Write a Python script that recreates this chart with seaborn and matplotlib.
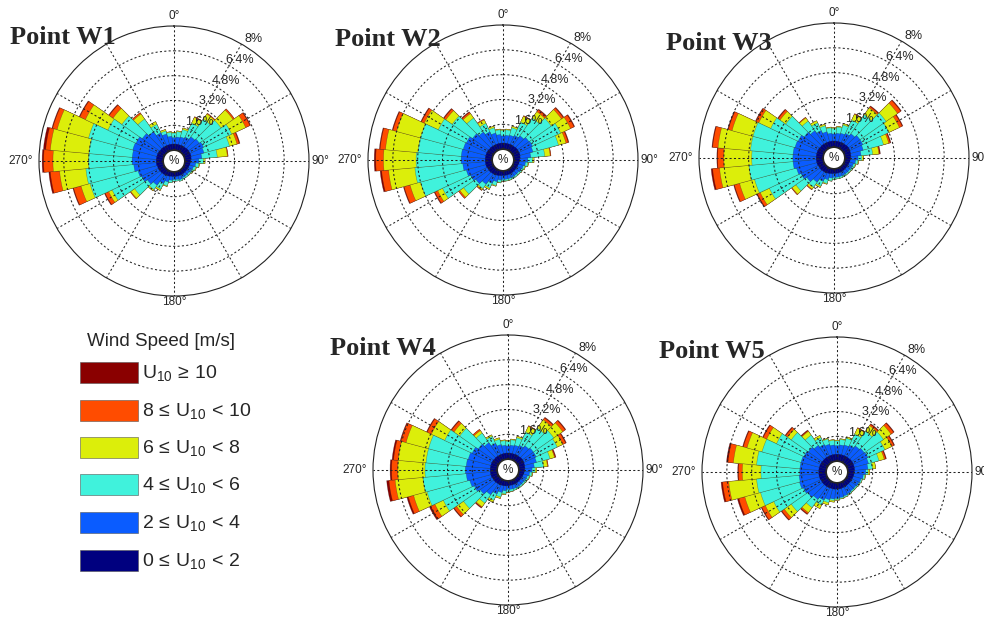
import numpy as np
import matplotlib
matplotlib.use("Agg")
import matplotlib.pyplot as plt
from matplotlib.patches import Rectangle
import seaborn as sns

sns.set_theme(style="white")
plt.rcParams["font.family"] = ["Liberation Sans", "DejaVu Sans"]
plt.rcParams["mathtext.fontset"] = "custom"
plt.rcParams["mathtext.rm"] = "Liberation Sans"
plt.rcParams["mathtext.it"] = "Liberation Sans:italic"
plt.rcParams["mathtext.bf"] = "Liberation Sans:bold"
plt.rcParams["mathtext.fallback"] = "stixsans"

# ---------------- data ----------------
directions = list(range(0, 360, 10))  # degrees, clockwise from North
ring_ticks = [1.6, 3.2, 4.8, 6.4, 8.0]
ring_labels = ["1.6%", "3.2%", "4.8%", "6.4%", "8%"]
angle_ticks = [0, 90, 180, 270]
angle_labels = ["0°", "90°", "180°", "270°"]
speed_labels = [r"$\mathrm{0}\,\leq\,\mathrm{U_{10}}\,<\,\mathrm{2}$",
                r"$\mathrm{2}\,\leq\,\mathrm{U_{10}}\,<\,\mathrm{4}$",
                r"$\mathrm{4}\,\leq\,\mathrm{U_{10}}\,<\,\mathrm{6}$",
                r"$\mathrm{6}\,\leq\,\mathrm{U_{10}}\,<\,\mathrm{8}$",
                r"$\mathrm{8}\,\leq\,\mathrm{U_{10}}\,<\,\mathrm{10}$",
                r"$\mathrm{U_{10}}\,\geq\,\mathrm{10}$"]
speed_colors = ["#00007F", "#0A5CFF", "#40F2DC", "#DCEE0A", "#FF4C00", "#8A0000"]
point_names = ["Point W1", "Point W2", "Point W3", "Point W4", "Point W5"]

# cumulative frequency (%) up to each speed class, per direction
w1_c2 = [0.40,0.40,0.40,0.42,0.42,0.45,0.45,0.45,0.42,0.38,0.35,0.32,0.30,0.30,0.30,0.30,0.30,0.30,
         0.30,0.30,0.33,0.35,0.38,0.40,0.42,0.42,0.45,0.45,0.45,0.45,0.45,0.42,0.42,0.40,0.40,0.40]
w1_c4 = [0.80,0.85,0.90,1.00,1.20,1.30,1.40,1.30,1.10,0.90,0.70,0.60,0.55,0.50,0.50,0.50,0.55,0.50,
         0.50,0.55,0.70,0.90,1.20,1.40,1.60,1.70,1.90,2.00,2.00,2.05,2.00,1.80,1.60,1.30,1.10,0.90]
w1_c6 = [1.10,1.20,1.40,2.00,2.60,3.00,3.40,3.00,2.10,1.20,0.90,0.75,0.65,0.60,0.60,0.60,0.65,0.60,
         0.60,0.70,0.95,1.30,1.55,2.40,3.70,4.90,5.00,4.80,4.80,5.00,4.00,3.40,2.60,1.90,1.30,1.15]
w1_c8 = [1.15,1.25,1.50,2.40,3.00,3.95,4.40,3.50,2.75,1.30,0.95,0.80,0.70,0.62,0.60,0.60,0.65,0.60,
         0.60,0.70,1.00,1.40,1.65,2.70,3.95,5.50,6.70,7.10,7.30,7.10,5.60,4.10,3.00,2.10,1.40,1.20]
w1_c10 = [1.15,1.25,1.50,2.45,3.05,4.05,4.70,3.65,2.80,1.30,0.95,0.80,0.70,0.62,0.60,0.60,0.65,0.60,
          0.60,0.70,1.00,1.40,1.65,2.75,4.20,6.00,7.30,7.70,7.60,7.40,6.00,4.40,3.10,2.10,1.40,1.20]
w1_tot = [1.15,1.25,1.50,2.45,3.05,4.05,4.75,3.70,2.80,1.30,0.95,0.80,0.70,0.62,0.60,0.60,0.65,0.60,
          0.60,0.70,1.00,1.40,1.65,2.75,4.25,6.05,7.40,7.80,7.75,7.45,6.05,4.45,3.10,2.10,1.40,1.20]

w2_c2 = [0.40,0.40,0.40,0.42,0.42,0.45,0.45,0.45,0.42,0.38,0.35,0.32,0.30,0.30,0.30,0.30,0.30,0.30,
         0.30,0.32,0.35,0.38,0.40,0.42,0.42,0.45,0.45,0.45,0.45,0.45,0.45,0.42,0.42,0.40,0.40,0.40]
w2_c4 = [0.85,0.90,0.95,1.05,1.20,1.35,1.40,1.30,1.10,0.90,0.75,0.65,0.60,0.55,0.55,0.55,0.55,0.55,
         0.55,0.60,0.75,0.95,1.20,1.45,1.60,1.75,1.90,2.00,2.00,1.95,1.90,1.70,1.50,1.30,1.10,0.95]
w2_c6 = [1.20,1.25,1.45,2.00,2.60,3.10,3.40,3.00,2.00,1.20,0.90,0.75,0.70,0.65,0.65,0.65,0.65,0.65,
         0.65,0.75,1.00,1.30,1.55,2.40,3.60,4.80,5.00,4.90,4.80,4.80,3.90,3.30,2.60,1.90,1.45,1.25]
w2_c8 = [1.25,1.30,1.55,2.40,3.10,3.90,4.10,3.50,2.35,1.30,0.95,0.80,0.72,0.67,0.65,0.65,0.67,0.67,
         0.67,0.78,1.05,1.40,1.65,2.70,3.95,5.50,6.70,7.00,6.90,6.40,4.90,3.80,2.95,2.15,1.55,1.30]
w2_c10 = [1.25,1.30,1.55,2.45,3.25,4.05,4.35,3.65,2.40,1.30,0.95,0.80,0.72,0.67,0.65,0.65,0.67,0.67,
          0.67,0.78,1.05,1.40,1.70,2.80,4.15,5.90,7.15,7.50,7.25,6.65,5.10,3.95,3.05,2.20,1.55,1.30]
w2_tot = [1.25,1.30,1.55,2.45,3.30,4.10,4.40,3.70,2.40,1.30,0.95,0.80,0.72,0.67,0.65,0.65,0.67,0.67,
          0.67,0.78,1.05,1.40,1.70,2.80,4.20,5.95,7.25,7.60,7.30,6.70,5.15,4.00,3.10,2.20,1.55,1.30]

w3_c2 = [0.40,0.40,0.40,0.42,0.42,0.45,0.45,0.42,0.40,0.38,0.35,0.32,0.30,0.30,0.30,0.30,0.30,0.30,
         0.30,0.32,0.35,0.38,0.40,0.42,0.42,0.45,0.45,0.45,0.45,0.45,0.45,0.42,0.42,0.40,0.40,0.40]
w3_c4 = [0.85,0.90,0.95,1.05,1.20,1.35,1.35,1.25,1.05,0.85,0.70,0.60,0.55,0.55,0.55,0.55,0.55,0.55,
         0.55,0.60,0.75,0.95,1.20,1.45,1.65,1.80,1.95,1.95,1.95,1.90,1.85,1.65,1.45,1.25,1.05,0.90]
w3_c6 = [1.20,1.30,1.50,2.00,2.70,3.40,3.20,2.60,1.80,1.10,0.85,0.72,0.68,0.64,0.64,0.64,0.65,0.65,
         0.68,0.78,1.00,1.30,1.60,2.30,3.90,4.60,4.80,4.60,4.70,4.70,3.80,3.10,2.20,1.80,1.45,1.25]
w3_c8 = [1.25,1.35,1.60,2.40,3.25,4.30,3.95,2.95,2.20,1.20,0.90,0.76,0.70,0.66,0.65,0.65,0.66,0.66,
         0.70,0.80,1.05,1.40,1.75,2.60,4.55,5.60,6.70,6.40,6.80,6.10,4.65,3.55,2.45,1.95,1.55,1.30]
w3_c10 = [1.25,1.35,1.60,2.45,3.35,4.55,4.15,3.05,2.25,1.20,0.90,0.76,0.70,0.66,0.65,0.65,0.66,0.66,
          0.70,0.80,1.05,1.40,1.80,2.65,4.75,5.95,7.15,6.80,7.15,6.35,4.85,3.70,2.50,1.95,1.55,1.30]
w3_tot = [1.25,1.35,1.60,2.45,3.40,4.60,4.20,3.10,2.30,1.20,0.90,0.76,0.70,0.66,0.65,0.65,0.66,0.66,
          0.70,0.80,1.05,1.40,1.80,2.65,4.80,6.00,7.25,6.85,7.20,6.40,4.90,3.75,2.50,1.95,1.55,1.30]

w4_c2 = [0.40,0.40,0.40,0.42,0.42,0.45,0.45,0.42,0.40,0.38,0.35,0.32,0.30,0.30,0.30,0.30,0.30,0.30,
         0.32,0.34,0.36,0.38,0.40,0.42,0.42,0.45,0.45,0.45,0.45,0.45,0.45,0.42,0.42,0.40,0.40,0.40]
w4_c4 = [0.85,0.90,0.95,1.05,1.20,1.30,1.30,1.20,1.00,0.85,0.70,0.60,0.55,0.55,0.55,0.55,0.55,0.55,
         0.55,0.65,0.80,1.00,1.25,1.50,1.70,1.85,2.00,2.05,2.00,1.95,1.85,1.65,1.45,1.20,1.00,0.90]
w4_c6 = [1.15,1.25,1.45,2.00,2.60,2.90,2.80,2.10,1.60,1.05,0.85,0.72,0.68,0.64,0.64,0.64,0.65,0.68,
         0.72,0.85,1.10,1.45,1.90,2.80,3.90,4.70,4.80,4.65,4.60,4.60,3.80,3.10,2.20,1.70,1.35,1.20]
w4_c8 = [1.20,1.30,1.55,2.40,3.25,3.60,3.20,2.40,1.85,1.15,0.90,0.76,0.70,0.66,0.65,0.65,0.66,0.70,
         0.75,0.90,1.20,1.60,2.20,3.35,4.50,5.60,6.60,6.40,6.40,6.10,4.75,3.55,2.40,1.80,1.45,1.25]
w4_c10 = [1.20,1.30,1.55,2.45,3.40,3.80,3.40,2.45,1.90,1.15,0.90,0.76,0.70,0.66,0.65,0.65,0.66,0.70,
          0.75,0.90,1.20,1.60,2.25,3.55,4.80,5.95,7.00,6.80,6.70,6.45,5.05,3.75,2.50,1.80,1.45,1.25]
w4_tot = [1.20,1.30,1.55,2.45,3.45,3.85,3.45,2.50,1.90,1.15,0.90,0.76,0.70,0.66,0.65,0.65,0.66,0.70,
          0.75,0.90,1.20,1.60,2.30,3.60,4.90,6.05,7.15,6.90,6.80,6.50,5.10,3.80,2.50,1.80,1.45,1.25]

w5_c2 = [0.45,0.45,0.45,0.46,0.46,0.48,0.48,0.46,0.45,0.42,0.40,0.38,0.36,0.36,0.36,0.36,0.38,0.40,
         0.40,0.42,0.42,0.44,0.45,0.46,0.46,0.48,0.48,0.48,0.48,0.48,0.48,0.46,0.46,0.45,0.45,0.45]
w5_c4 = [1.00,1.05,1.10,1.20,1.35,1.45,1.50,1.40,1.30,1.15,1.00,0.90,0.85,0.80,0.80,0.85,0.90,0.95,
         1.00,1.05,1.15,1.30,1.45,1.60,1.70,1.80,1.75,1.70,1.70,1.70,1.65,1.55,1.40,1.25,1.15,1.05]
w5_c6 = [1.30,1.40,1.55,2.00,2.50,2.95,2.70,2.10,1.60,1.30,1.10,0.98,0.92,0.88,0.88,0.92,0.98,1.02,
         1.08,1.15,1.35,1.65,2.10,2.90,3.80,4.40,4.50,4.20,4.50,4.30,3.60,2.90,2.20,1.75,1.50,1.35]
w5_c8 = [1.35,1.45,1.65,2.40,2.95,3.55,3.20,2.45,1.80,1.40,1.15,1.00,0.94,0.90,0.90,0.94,1.00,1.05,
         1.12,1.25,1.50,1.90,2.50,3.45,4.40,5.45,6.30,5.40,6.00,5.30,4.30,3.20,2.50,1.90,1.55,1.40]
w5_c10 = [1.35,1.45,1.65,2.45,3.05,3.75,3.35,2.55,1.80,1.40,1.15,1.00,0.94,0.90,0.90,0.94,1.00,1.05,
          1.12,1.25,1.50,1.90,2.60,3.65,4.65,5.85,6.70,5.65,6.35,5.55,4.55,3.35,2.55,1.90,1.55,1.40]
w5_tot = [1.35,1.45,1.65,2.45,3.10,3.80,3.40,2.60,1.80,1.40,1.15,1.00,0.94,0.90,0.90,0.94,1.00,1.05,
          1.12,1.25,1.50,1.90,2.65,3.70,4.70,5.95,6.80,5.70,6.45,5.60,4.60,3.40,2.60,1.90,1.55,1.40]

points = [
    [w1_c2, w1_c4, w1_c6, w1_c8, w1_c10, w1_tot],
    [w2_c2, w2_c4, w2_c6, w2_c8, w2_c10, w2_tot],
    [w3_c2, w3_c4, w3_c6, w3_c8, w3_c10, w3_tot],
    [w4_c2, w4_c4, w4_c6, w4_c8, w4_c10, w4_tot],
    [w5_c2, w5_c4, w5_c6, w5_c8, w5_c10, w5_tot],
]

# ---------------- layout (pixels) ----------------
W, H = 984, 621
centers = [(174, 161), (503, 160), (834, 158), (508, 470), (837, 472)]
radius_px = 135
title_pos = [(10, 38), (335, 40), (666, 43), (330, 348), (659, 352)]
angle_label_r = [8.64, 8.71, 8.39, 9.16]

fig = plt.figure(figsize=(W / 100, H / 100), dpi=100)
fig.patch.set_facecolor("white")

# legend panel
lax = fig.add_axes([0, 0, 1, 1])
lax.set_xlim(0, W)
lax.set_ylim(H, 0)
lax.axis("off")
lax.text(87, 342, "Wind Speed [m/s]", fontsize=13.5, va="center", ha="left")
row_tops = [362, 400, 437, 474, 512, 550]
for top, ci in zip(row_tops, range(5, -1, -1)):
    lax.add_patch(Rectangle((80, top), 58, 21, facecolor=speed_colors[ci],
                            edgecolor="#555555", linewidth=0.4))
    lax.text(142, top + 16, speed_labels[ci], fontsize=14, va="baseline", ha="left")

theta = np.deg2rad(directions)
width = np.deg2rad(10)

for idx, (cum, (cx, cy)) in enumerate(zip(points, centers)):
    rect = [(cx - radius_px) / W, 1 - (cy + radius_px) / H, 2 * radius_px / W, 2 * radius_px / H]
    ax = fig.add_axes(rect, projection="polar")
    ax.set_facecolor("white")
    ax.set_theta_zero_location("N")
    ax.set_theta_direction(-1)
    for k in range(5, -1, -1):
        ax.bar(theta, cum[k], width=width, bottom=0, color=speed_colors[k],
               edgecolor=(0.15, 0.15, 0.15, 0.45), linewidth=0.35, zorder=1)
    ax.set_ylim(0, 8)
    ax.set_rorigin(-0.7)
    ax.set_yticks(ring_ticks[:-1])
    ax.set_yticklabels([])
    ax.set_xticks(np.deg2rad(np.arange(0, 360, 30)))
    ax.set_xticklabels([])
    ax.tick_params(axis="both", length=0)
    ax.grid(True, linestyle=(0, (2, 2.2)), color="#222222", linewidth=0.75)
    ax.set_axisbelow(False)
    ax.spines["polar"].set_color("#222222")
    ax.spines["polar"].set_linewidth(0.8)
    if "inner" in ax.spines:
        ax.spines["inner"].set_visible(False)
    for ang, lab, rr in zip(angle_ticks, angle_labels, angle_label_r):
        ax.text(np.deg2rad(ang), rr, lab, fontsize=8.5, ha="center", va="center",
                clip_on=False, zorder=5)
    for rv, lab in zip(ring_ticks, ring_labels):
        ax.text(np.deg2rad(33), rv + 0.68, lab, fontsize=9, ha="center", va="center",
                clip_on=False, zorder=5)
    ax.text(0, -0.7, "%", fontsize=8.5, ha="center", va="center", zorder=5)
    tx, ty = title_pos[idx]
    fig.text(tx / W, 1 - ty / H, point_names[idx], fontsize=19, fontweight="bold",
             family=["Liberation Serif", "DejaVu Serif"], ha="left", va="center")

fig.savefig("out.png", dpi=100, facecolor="white")
